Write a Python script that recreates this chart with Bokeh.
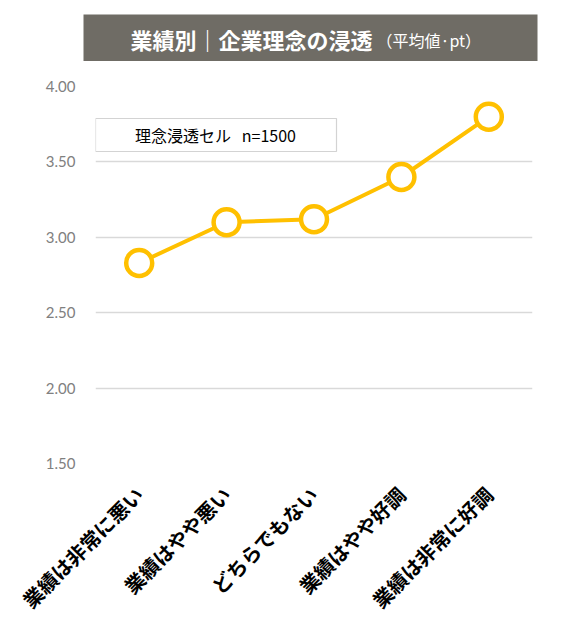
import math
from bokeh.plotting import figure
from bokeh.layouts import column, row
from bokeh.models import (Range1d, FixedTicker, NumeralTickFormatter, BoxAnnotation,
                          Label, ColumnDataSource)
from bokeh.embed import file_html
from bokeh.resources import INLINE

categories = ["業績は非常に悪い", "業績はやや悪い", "どちらでもない", "業績はやや好調", "業績は非常に好調"]
values = [2.83, 3.10, 3.12, 3.40, 3.80]
y_ticks = [1.5, 2.0, 2.5, 3.0, 3.5, 4.0]
title_main = "業績別｜企業理念の浸透"
title_sub = "（平均値·pt）"
legend_text = "理念浸透セル\u00a0\u00a0\u00a0n=1500"

JP = "Noto Sans CJK JP"
GOLD = "#FFC000"
W = 555

# ---- title band figure ----
t = figure(width=W, height=61, x_range=Range1d(0, 1), y_range=Range1d(0, 1),
           x_axis_type=None, y_axis_type=None, output_backend="svg", toolbar_location=None,
           min_border_left=83, min_border_right=W - 537, min_border_top=14, min_border_bottom=0)
t.outline_line_color = None
t.grid.visible = False
t.background_fill_color = "#6f6c65"
t.border_fill_color = "white"
t.add_layout(Label(x=47, y=23, x_units="screen", y_units="screen", text=title_main,
                   text_font=JP, text_font_style="bold", text_font_size="22px",
                   text_color="white", text_baseline="middle", text_align="left"))
t.add_layout(Label(x=293, y=22, x_units="screen", y_units="screen", text=title_sub,
                   text_font=JP, text_font_size="16px",
                   text_color="white", text_baseline="middle", text_align="left"))

# ---- main chart ----
p = figure(x_range=categories, y_range=Range1d(1.5, 4.0), width=W, height=566,
           output_backend="svg", toolbar_location=None,
           min_border_left=95, min_border_right=W - 532, min_border_top=25, min_border_bottom=164)
p.outline_line_color = None
p.background_fill_color = "white"
p.border_fill_color = "white"

src = ColumnDataSource(dict(x=categories, y=values))
p.line("x", "y", source=src, line_color=GOLD, line_width=4)
p.scatter("x", "y", source=src, size=26, fill_color="white", line_color=GOLD, line_width=4.5)

p.xgrid.grid_line_color = None
p.ygrid.grid_line_color = "#d9d9d9"
p.ygrid.grid_line_width = 1.5
p.yaxis.ticker = FixedTicker(ticks=y_ticks)
p.yaxis.formatter = NumeralTickFormatter(format="0.00")
for ax in (p.xaxis, p.yaxis):
    ax.axis_line_color = None
    ax.major_tick_line_color = None
    ax.minor_tick_line_color = None
    ax.major_tick_out = 0
    ax.major_tick_in = 0
p.yaxis.major_label_text_color = "#808080"
p.yaxis.major_label_text_font = "Lato"
p.yaxis.major_label_text_font_size = "15px"
p.yaxis.major_label_standoff = 20
p.xaxis.major_label_orientation = math.pi / 4
p.xaxis.major_label_text_font = JP
p.xaxis.major_label_text_font_style = "bold"
p.xaxis.major_label_text_font_size = "20px"
p.xaxis.major_label_text_color = "black"
p.xaxis.major_label_standoff = 27

box = BoxAnnotation(left=0, right=241, bottom=312, top=345,
                    left_units="screen", right_units="screen",
                    bottom_units="screen", top_units="screen",
                    fill_color="white", fill_alpha=1.0, line_color="#6e6e6e", line_width=1.2)
p.add_layout(box)
p.add_layout(Label(x=120, y=329, x_units="screen", y_units="screen", text=legend_text,
                   text_font=JP, text_font_size="16px", text_color="black",
                   text_baseline="middle", text_align="center"))

layout = column(row(t), p, spacing=0)
open("out.html", "w").write(file_html(layout, INLINE))
